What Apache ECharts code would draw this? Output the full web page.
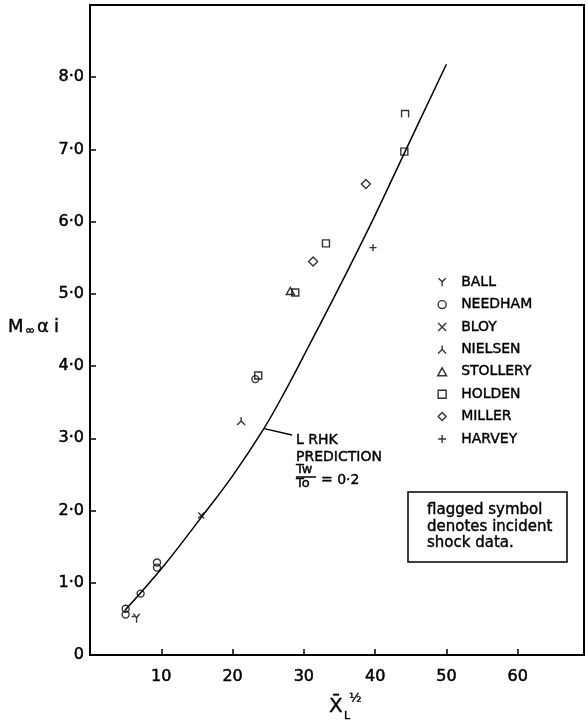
<!DOCTYPE html>
<html><head><meta charset="utf-8">
<script src="https://cdn.jsdelivr.net/npm/echarts@6/dist/echarts.min.js"></script>
<style>html,body{margin:0;padding:0;background:#fff}#c{width:588px;height:724px}</style>
</head><body><div id="c"></div>
<script>
// ---- data ----
const xTickValues = [10, 20, 30, 40, 50, 60];
const xTickLabels = ['10', '20', '30', '40', '50', '60'];
const yTickValues = [0, 1, 2, 3, 4, 5, 6, 7, 8];
const yTickLabels = ['0', '1·0', '2·0', '3·0', '4·0', '5·0', '6·0', '7·0', '8·0'];

const ballX = [6.4];            const ballY = [0.51];          const ballFlag = [1];
const needhamX = [5.0, 5.0, 7.1, 9.4, 9.4, 23.2];
const needhamY = [0.64, 0.56, 0.85, 1.28, 1.21, 3.82];
const bloyX = [15.6];           const bloyY = [1.93];
const nielsenX = [21.2];        const nielsenY = [3.24];
const stolleryX = [28.1];       const stolleryY = [5.04];
const holdenX = [23.6, 28.8, 33.1, 44.1, 44.2];
const holdenY = [3.87, 5.02, 5.70, 6.97, 7.49];
const holdenFlag = [0, 0, 0, 0, 1];
const millerX = [31.3, 38.7];   const millerY = [5.45, 6.52];
const harveyX = [39.7];         const harveyY = [5.64];

const predX = [4.9, 10.3, 15.8, 20.0, 24.3, 27.3, 30.5, 35.0, 39.8, 44.1, 50.0];
const predY = [0.62, 1.23, 1.93, 2.48, 3.12, 3.64, 4.24, 5.10, 6.05, 6.95, 8.18];

const legendNames = ['BALL', 'NEEDHAM', 'BLOY', 'NIELSEN', 'STOLLERY', 'HOLDEN', 'MILLER', 'HARVEY'];

// ---- build ----
const FONT = 'DejaVu Sans';
const SYM = {
  Y: 'path://M0,0L5,5L10,0M5,5L5,11',
  Yflag: 'path://M0,0L5,5L10,0M5,5L5,11M1.5,3.5L-3,3.5',
  X: 'path://M0,0L10,10M10,0L0,10',
  L: 'path://M5,0L5,5L0,10M5,5L10,10',
  P: 'path://M5,0L5,10M0,5L10,5',
  O: 'path://M0,5A5,5,0,1,1,10,5A5,5,0,1,1,0,5Z',
  S: 'path://M0,0L10,0L10,10L0,10Z',
  Sflag: 'path://M0,10L0,0L10,0L10,10',
  T: 'path://M5,0L10,9L0,9Z',
  D: 'path://M5,0L10,5L5,10L0,5Z'
};
function pts(xs, ys, flags, flagSym) {
  return xs.map((x, i) => {
    const d = { value: [x, ys[i]] };
    if (flags && flags[i]) d.symbol = flagSym;
    return d;
  });
}
const mk = { color: 'transparent', borderColor: '#000', borderWidth: 1.4 };
function sc(name, data, symbol, size) {
  return { name, type: 'scatter', data, symbol, symbolSize: size, itemStyle: mk, z: 5, silent: true };
}
const heavy = { textBorderColor: '#000', textBorderWidth: 0.5 };

const chart = echarts.init(document.getElementById('c'), null, { renderer: 'canvas' });
const option = {
  backgroundColor: '#fff',
  animation: false,
  grid: { left: 90, right: 4, top: 5, bottom: 69, show: true, borderColor: '#000', borderWidth: 2 },
  xAxis: {
    type: 'value', min: 0, max: 69.3, interval: 10,
    axisLine: { show: true, onZero: false, lineStyle: { color: '#000', width: 2 } },
    axisTick: { show: true, inside: true, length: 6, lineStyle: { color: '#000', width: 1.5 } },
    axisLabel: Object.assign({
      margin: 14, fontFamily: FONT, fontSize: 16, color: '#000', showMaxLabel: false,
      formatter: v => { const i = xTickValues.indexOf(v); return i >= 0 ? xTickLabels[i] : ''; }
    }, heavy),
    splitLine: { show: false }
  },
  yAxis: {
    type: 'value', min: 0, max: 9, interval: 1,
    axisLine: { show: true, onZero: false, lineStyle: { color: '#000', width: 2 } },
    axisTick: { show: true, inside: true, length: 6, lineStyle: { color: '#000', width: 1.5 } },
    axisLabel: Object.assign({
      margin: 6, fontFamily: FONT, fontSize: 16, color: '#000', showMaxLabel: false,
      formatter: v => { const i = yTickValues.indexOf(v); return i >= 0 ? yTickLabels[i] : ''; }
    }, heavy),
    splitLine: { show: false }
  },
  legend: {
    data: legendNames, orient: 'vertical', left: 432, top: 270, padding: 5,
    itemWidth: 28, itemHeight: 8, itemGap: 8,
    textStyle: { fontFamily: FONT, fontSize: 14, color: '#000', lineHeight: 14, textBorderColor: '#000', textBorderWidth: 0.4 },
    itemStyle: { color: 'transparent', borderColor: '#000', borderWidth: 1.4 },
    selectedMode: false
  },
  series: [
    {
      name: 'LRHK PREDICTION', type: 'line', smooth: 0.4, symbol: 'none', silent: true,
      data: predX.map((x, i) => [x, predY[i]]),
      lineStyle: { color: '#000', width: 1.5 }, z: 3
    },
    sc('BALL', pts(ballX, ballY, ballFlag, SYM.Yflag), SYM.Y, [8, 9]),
    sc('NEEDHAM', pts(needhamX, needhamY), SYM.O, 7),
    sc('BLOY', pts(bloyX, bloyY), SYM.X, 6),
    sc('NIELSEN', pts(nielsenX, nielsenY), SYM.L, [8, 8]),
    sc('STOLLERY', pts(stolleryX, stolleryY), SYM.T, [8, 7]),
    sc('HOLDEN', pts(holdenX, holdenY, holdenFlag, SYM.Sflag), SYM.S, 7),
    sc('MILLER', pts(millerX, millerY), SYM.D, 9),
    sc('HARVEY', pts(harveyX, harveyY), SYM.P, 7)
  ]
};
chart.setOption(option);

// annotation anchored on the prediction curve
const anchor = chart.convertToPixel({ gridIndex: 0 }, [predX[4], predY[4]]);
const T = (text, x, y, size, extra) => ({
  type: 'text', x, y, silent: true,
  style: Object.assign({ text, fontFamily: FONT, fontSize: size, fill: '#000', stroke: '#000', lineWidth: 0.4, align: 'left', verticalAlign: 'middle' }, extra || {})
});
chart.setOption({
  graphic: [
    // y axis name  M∞ αi
    T('M', 8, 327, 18), T('∞', 25, 331, 12), T('α', 37, 327, 18), T('i', 54, 327, 18),
    // x axis name  X̄_L ^½
    T('X̄', 329, 707, 20), T('L', 344, 716, 11), T('½', 349, 699, 13),
    // leader line and prediction label
    { type: 'line', silent: true, shape: { x1: anchor[0] + 1, y1: anchor[1] - 1, x2: 292, y2: 435 }, style: { stroke: '#000', lineWidth: 1.3 } },
    T('L RHK', 296, 440, 14), T('PREDICTION', 296, 457, 14),
    T('Tw', 296, 470, 13), { type: 'line', silent: true, shape: { x1: 296, y1: 477, x2: 316, y2: 477 }, style: { stroke: '#000', lineWidth: 1.5 } },
    T('To', 296, 484, 13), T('= 0·2', 321, 480, 14),
    // flagged symbol note box
    { type: 'rect', silent: true, shape: { x: 408, y: 492, width: 159, height: 70 }, style: { fill: 'none', stroke: '#000', lineWidth: 1.5 } },
    T('flagged symbol', 427, 510, 15), T('denotes incident', 427, 527, 15), T('shock data.', 427, 543, 15)
  ]
});
</script></body></html>
